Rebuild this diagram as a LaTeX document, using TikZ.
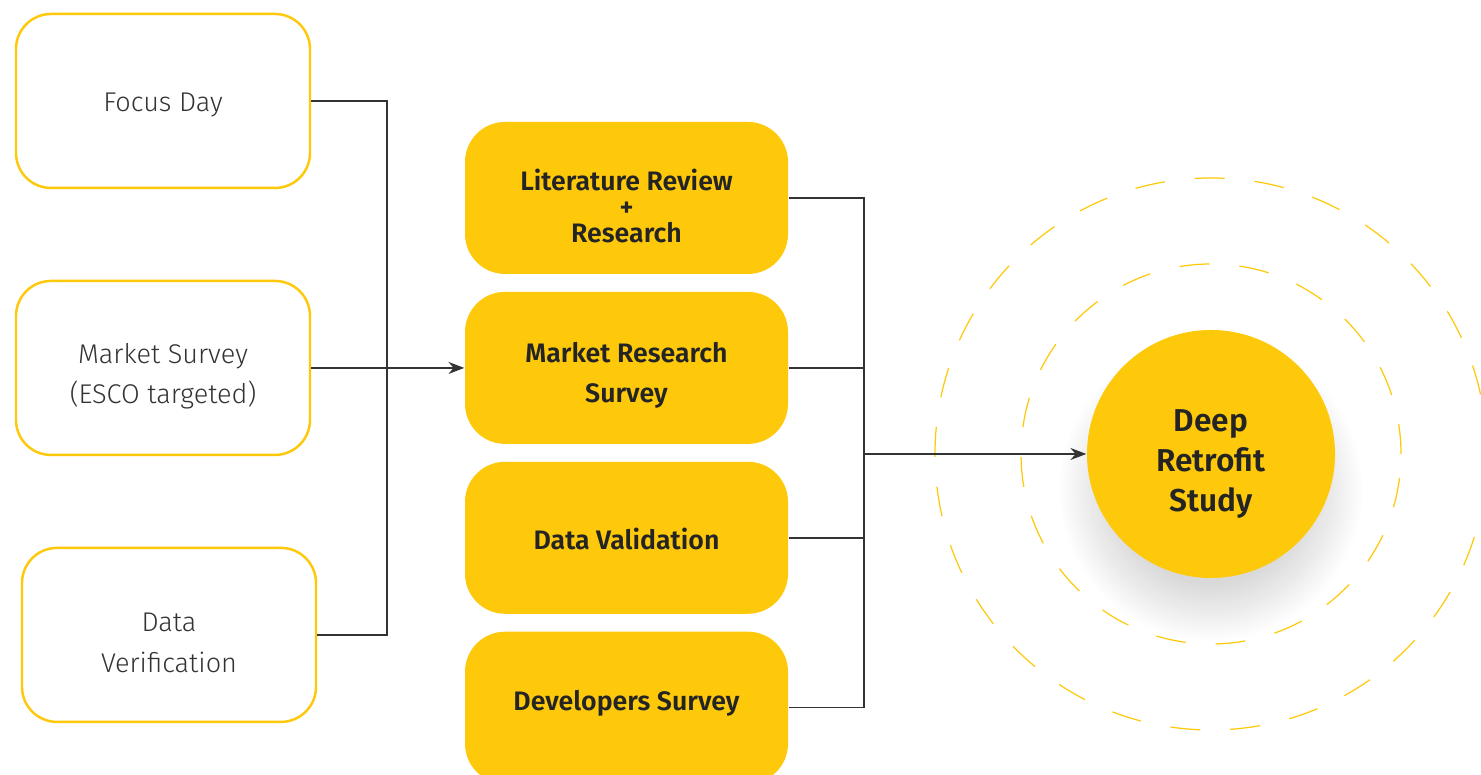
\documentclass[tikz,border=0pt]{standalone}
\usepackage{fontspec}
\setmainfont{Fira Sans}
\newfontfamily\firalight{Fira Sans Light}
\newfontfamily\firasemi{Fira Sans SemiBold}
\usetikzlibrary{positioning,shadows.blur,arrows.meta}
\definecolor{sun}{HTML}{FEC90B}
\definecolor{ink}{HTML}{333333}
% strut that pushes a label down (height) or up (depth)
\newcommand\padtop[1]{\rule{0pt}{#1}}
\newcommand\padbot[1]{\rule[-#1]{0pt}{0pt}}

\begin{document}
\begin{tikzpicture}
  \tikzset{source/.style={draw=sun, line width=0.7pt, fill=white, rounded corners=0.35cm,
      minimum width=2.94cm, minimum height=1.74cm, align=center, text=ink,
      font=\firalight\fontsize{7.7}{11.4}\selectfont},
    stage/.style={fill=sun, rounded corners=0.4cm, minimum width=3.23cm, minimum height=1.52cm,
      align=center, text=ink!70!black, font=\firasemi\fontsize{7.6}{11.4}\selectfont},
    link/.style={draw=ink, line width=0.45pt},
    ring/.style={draw=sun, line width=0.35pt, dash pattern=on 0.3cm off 0.3cm}
  }
  \useasboundingbox (0,0) rectangle (14.81,7.75);

  % inputs
  \node[source] (FD) at (1.63,6.74) {\padtop{7.5pt}Focus Day};
  \node[source, below=0.905cm of FD] (MS) {\padtop{10.2pt}Market Survey\\(ESCO targeted)};
  \node[source, below=0.905cm of MS, xshift=0.06cm] (DV) {\padtop{9.8pt}Data\\Verification};

  % stages
  \node[stage] (LR) at (6.265,5.77) {\padtop{10.5pt}Literature Review\\[-4pt]+\\[-4pt]Research};
  \node[stage, below=0.165cm of LR] (MR) {\padtop{10.2pt}Market Research\\Survey};
  \node[stage, below=0.165cm of MR] (DA) {\padtop{6.6pt}Data Validation};
  \node[stage, below=0.165cm of DA] (DS) {Developers Survey\padbot{3.9pt}};

  % result
  \node[circle, fill=sun, minimum size=2.48cm, align=center, text=ink!70!black,
    font=\firasemi\fontsize{9}{11.4}\selectfont,
    blur shadow={shadow xshift=0cm, shadow yshift=-0.35cm, shadow blur radius=0.3cm,
      shadow blur steps=20, shadow opacity=15}]
    (DR) at (12.11,3.21) {\padtop{11.9pt}Deep\\Retrofit\\Study};
  \draw[ring] (DR.center) circle (1.90cm);
  \draw[ring] (DR.center) circle (2.76cm);

  \coordinate (L) at (3.87,0);
  \coordinate (R) at (8.64,0);
  \draw[link] (FD.east) -| (L |- DV.east) -- (DV.east);
  \draw[link, -{Stealth[length=4.5pt, width=3.4pt]}] (MS.east) -- (MS.east -| MR.west);

  \draw[link] (LR.east) -| (R |- DS.east) -- (DS.east);
  \draw[link] (MR.east) -- (R |- MR.east);
  \draw[link] (DA.east) -- (R |- DA.east);
  \draw[link, -{Stealth[length=4.5pt, width=3.4pt]}] (R |- DR.west) -- (DR.west);
\end{tikzpicture}
\end{document}
